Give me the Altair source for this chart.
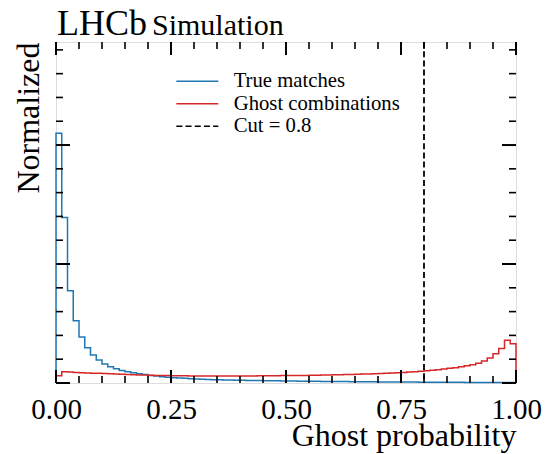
import altair as alt
import pandas as pd

N_BINS = 80
true_matches = [2.10, 1.39, 0.776, 0.524, 0.387, 0.297, 0.235, 0.193, 0.160, 0.137,
                0.120, 0.106, 0.095, 0.086, 0.078, 0.071, 0.064, 0.058, 0.053, 0.049,
                0.045, 0.042, 0.039, 0.036, 0.034, 0.032, 0.030, 0.028, 0.027, 0.026,
                0.025, 0.024, 0.023, 0.022, 0.021, 0.020, 0.019, 0.018, 0.018, 0.017,
                0.016, 0.016, 0.015, 0.015, 0.014, 0.014, 0.013, 0.013, 0.012, 0.012,
                0.012, 0.011, 0.011, 0.010, 0.010, 0.010, 0.009, 0.009, 0.009, 0.009,
                0.008, 0.008, 0.008, 0.007, 0.007, 0.007, 0.007, 0.006, 0.006, 0.006,
                0.006, 0.005, 0.005, 0.005, 0.005, 0.004, 0.004, 0.004, 0.004, 0.004]
ghost = [0.060, 0.095, 0.092, 0.089, 0.087, 0.085, 0.083, 0.081, 0.079, 0.077,
         0.075, 0.073, 0.071, 0.070, 0.068, 0.067, 0.066, 0.064, 0.063, 0.062,
         0.061, 0.060, 0.060, 0.059, 0.059, 0.058, 0.058, 0.058, 0.058, 0.058,
         0.058, 0.058, 0.058, 0.059, 0.059, 0.060, 0.060, 0.061, 0.061, 0.062,
         0.062, 0.063, 0.064, 0.064, 0.065, 0.066, 0.067, 0.068, 0.069, 0.070,
         0.071, 0.072, 0.073, 0.075, 0.076, 0.078, 0.080, 0.082, 0.084, 0.087,
         0.089, 0.092, 0.095, 0.099, 0.103, 0.107, 0.112, 0.117, 0.123, 0.129,
         0.136, 0.144, 0.154, 0.167, 0.185, 0.210, 0.245, 0.290, 0.360, 0.330]
cut_value = 0.8
series_names = ["True matches", "Ghost combinations", "Cut = 0.8"]
series_colors = ["#1f77b4", "#d62728", "#000000"]
x_major = [0.0, 0.25, 0.5, 0.75, 1.0]
x_minor = [0.05, 0.1, 0.15, 0.2, 0.3, 0.35, 0.4, 0.45, 0.55, 0.6, 0.65, 0.7,
           0.8, 0.85, 0.9, 0.95]
y_major = [0, 1, 2]
y_minor = [0.2, 0.4, 0.6, 0.8, 1.2, 1.4, 1.6, 1.8, 2.2, 2.4, 2.6, 2.8]
Y_TOP = 2.866

W, H = 460, 341
FONT = "Liberation Serif"


def step_rows(vals, name):
    rows = [{"x": 0.0, "y": 0.0, "series": name, "o": 0}]
    k = 1
    for i, v in enumerate(vals):
        rows.append({"x": i / N_BINS, "y": v, "series": name, "o": k}); k += 1
        rows.append({"x": (i + 1) / N_BINS, "y": v, "series": name, "o": k}); k += 1
    rows.append({"x": 1.0, "y": 0.0, "series": name, "o": k})
    return rows


xs = alt.Scale(domain=[0, 1], nice=False, zero=False)
ys = alt.Scale(domain=[0, Y_TOP], nice=False, zero=False)
cs = alt.Scale(domain=series_names, range=series_colors)
ds = alt.Scale(domain=series_names, range=[[1, 0], [1, 0], [6, 3.2]])
leg = alt.Legend(title=None, orient="none", legendX=131, legendY=29, padding=0,
                 symbolType="M-4,0H4", symbolSize=110.25, symbolStrokeWidth=1.5,
                 symbolFillColor="transparent",
                 labelFont=FONT, labelFontSize=20.7, labelColor="black",
                 labelOffset=26, rowPadding=0.5, labelLimit=400)

x_axis = alt.Axis(
    values=x_major, format=".2f", ticks=False, tickSize=0, domain=False, grid=False,
    labelFont=FONT, labelFontSize=29, labelColor="black", labelPadding=35,
    labelBaseline="alphabetic", labelOverlap=False, labelFlush=False,
    title="Ghost probability", titleFont=FONT, titleFontSize=32,
    titleFontWeight="normal", titleColor="black", titleX=W, titleY=62,
    titleAlign="right", titleBaseline="alphabetic")
y_axis = alt.Axis(
    labels=False, ticks=False, tickSize=0, domain=False, grid=False,
    title="Normalized", titleFont=FONT, titleFontSize=32, titleFontWeight="normal",
    titleColor="black", titleX=-28, titleY=0, titleAlign="right",
    titleAngle=270, titleBaseline="middle")

X = alt.X("x:Q", scale=xs, axis=x_axis)
Y = alt.Y("y:Q", scale=ys, axis=y_axis)
C = alt.Color("series:N", scale=cs, legend=leg)
D = alt.StrokeDash("series:N", scale=ds, legend=leg)

blue = alt.Chart(pd.DataFrame(step_rows(true_matches, series_names[0]))).mark_line(
    strokeWidth=1.5).encode(x=X, y=Y, color=C, strokeDash=D, order="o:Q")

red = alt.Chart(pd.DataFrame(step_rows(ghost, series_names[1]))).mark_line(
    strokeWidth=1.5).encode(x=X, y=Y, color=C, strokeDash=D, order="o:Q")

cut = alt.Chart(pd.DataFrame({"x": [cut_value], "series": [series_names[2]]})).mark_rule(
    strokeWidth=1.8).encode(x=X, color=C, strokeDash=D)


def xticks(vals, length, width):
    df = pd.DataFrame({"x": vals})
    b = alt.Chart(df).mark_rule(color="black", strokeWidth=width).encode(
        x=X, y=alt.value(H), y2=alt.value(H - length))
    t = alt.Chart(df).mark_rule(color="black", strokeWidth=width).encode(
        x=X, y=alt.value(0), y2=alt.value(length))
    return [b, t]


def yticks(vals, length, width):
    df = pd.DataFrame({"y": vals})
    l = alt.Chart(df).mark_rule(color="black", strokeWidth=width).encode(
        y=Y, x=alt.value(0), x2=alt.value(length))
    r = alt.Chart(df).mark_rule(color="black", strokeWidth=width).encode(
        y=Y, x=alt.value(W), x2=alt.value(W - length))
    return [l, r]


ticks = (xticks(x_major, 13, 2) + xticks(x_minor, 7, 1.6)
         + yticks(y_major, 14, 2) + yticks(y_minor, 7, 1.6))

lhcb = alt.Chart(pd.DataFrame({"t": ["LHCb"]})).mark_text(
    font=FONT, fontSize=36, align="left", baseline="alphabetic", color="black").encode(
    text="t:N", x=alt.value(1), y=alt.value(-7))
sim = alt.Chart(pd.DataFrame({"t": ["Simulation"]})).mark_text(
    font=FONT, fontSize=30, align="left", baseline="alphabetic", color="black").encode(
    text="t:N", x=alt.value(96), y=alt.value(-7))

chart = alt.layer(blue, red, cut, *ticks, lhcb, sim).properties(
    width=W, height=H,
    autosize=alt.AutoSizeParams(type="none"),
    padding={"left": 48, "top": 34, "right": 27, "bottom": 70},
).configure_view(stroke="black", strokeWidth=2).configure(background="white")

chart.save("out.html", embed_options={"renderer": "svg", "actions": False})
